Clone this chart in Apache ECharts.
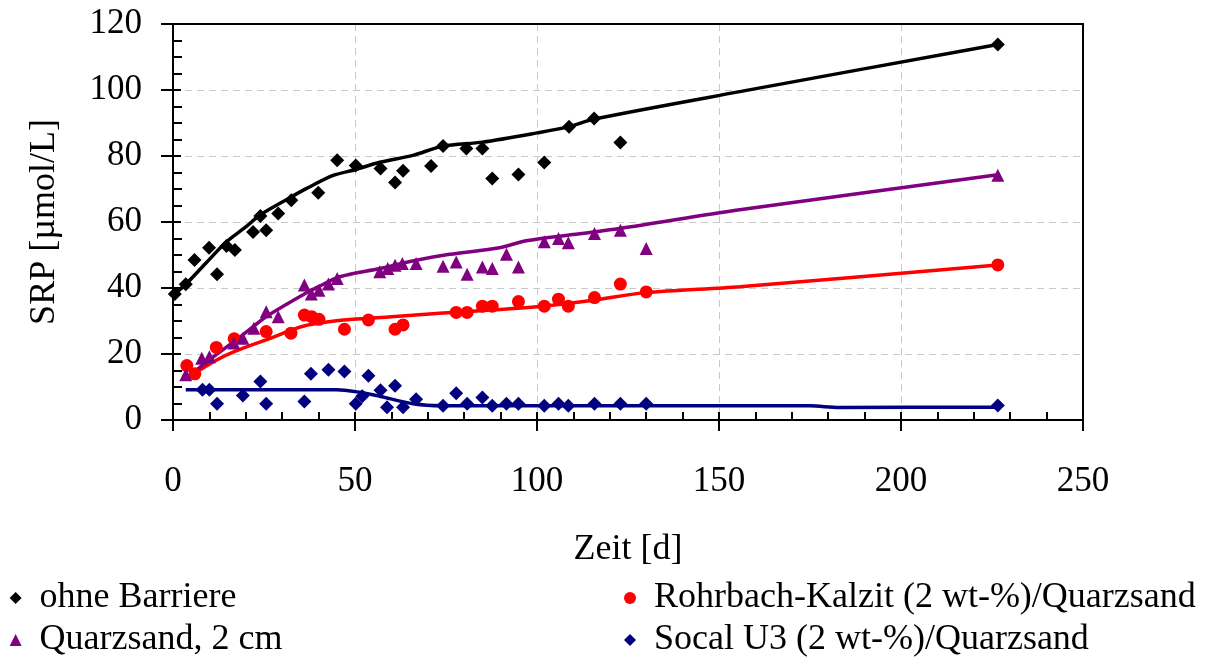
<!DOCTYPE html>
<html><head><meta charset="utf-8">
<script src="https://cdn.jsdelivr.net/npm/echarts@6/dist/echarts.min.js"></script>
<style>html,body{margin:0;padding:0;background:#fff}#c{width:1209px;height:659px}</style>
</head><body><div id="c"></div>
<script>
// ---- data ----
const xTickValues = [0, 50, 100, 150, 200, 250];
const yTickValues = [0, 20, 40, 60, 80, 100, 120];
const xAxisName = 'Zeit [d]';
const yAxisName = 'SRP [\u00b5mol/L]';
const seriesNames = ['ohne Barriere', 'Rohrbach-Kalzit (2 wt-%)/Quarzsand', 'Quarzsand, 2 cm', 'Socal U3 (2 wt-%)/Quarzsand'];

const ohneBarriere = [
  [0.5,38.2],[3.5,41.1],[5.9,48.5],[9.9,52.2],[12.1,44.2],[14.7,52.7],[17.0,51.5],[22.0,57.0],
  [24.0,61.8],[25.6,57.5],[28.9,62.6],[32.5,66.6],[39.9,68.9],[45.1,78.7],[50.2,77.1],[57.0,76.2],
  [61.0,72.0],[63.2,75.5],[70.9,77.0],[74.2,83.0],[80.6,82.3],[85.0,82.3],[87.7,73.2],[94.9,74.4],
  [102.0,78.0],[108.8,88.9],[115.7,91.4],[122.9,84.1],[226.6,113.8]
];
const ohneBarriereFit = [
  [0.5,38.4],[3.5,41.1],[9,47.5],[14.7,54],[20,58.5],[24,62.2],[32.5,67.6],[36.6,70.1],[44,74.1],
  [50.2,75.9],[56.8,78.1],[65.9,80.2],[74.2,83],[85,84.2],[100,87],[108.8,88.9],[115.7,91.2],
  [155.7,99.5],[226.6,113.8]
];
const quarzsand = [
  [3.5,13.7],[7.9,18.7],[10,19.2],[16.7,23.3],[19.2,24.8],[22.2,27.8],[25.6,32.8],[28.9,31.3],
  [36.1,40.9],[38.0,38.2],[40.1,39.3],[42.7,41.2],[45.1,42.9],[56.8,44.9],[59,45.9],[61,46.9],
  [63,47.4],[66.8,47.4],[74.2,46.6],[77.8,47.9],[80.8,44.2],[85,46.4],[87.7,45.9],[91.6,50.2],
  [94.9,46.4],[102,54],[105.9,55],[108.6,53.7],[115.8,56.5],[122.9,57.5],[130,52],[226.6,74.2]
];
const quarzsandFit = [
  [3.5,12.5],[10,18.2],[19.2,25.8],[25.6,31.3],[36.1,38.2],[40,40.4],[45.8,43.4],[56.8,45.9],
  [66.8,48.4],[76,50.2],[89.7,52.2],[97,54.3],[109.9,56.2],[122.7,58],[155.7,63.7],[226.6,74.3]
];
const rohrbach = [
  [3.8,16.5],[6,14],[11.9,22],[16.8,24.6],[25.6,26.8],[32.4,26.3],[36.1,31.8],[38.1,31.3],
  [40.1,30.5],[47.1,27.5],[53.7,30.3],[61,27.5],[63.2,28.8],[77.8,32.6],[80.8,32.6],[85,34.5],
  [87.7,34.5],[94.9,35.9],[102,34.5],[105.9,36.6],[108.6,34.5],[115.8,37.1],[122.9,41.2],
  [130,38.8],[226.6,47]
];
const rohrbachFit = [
  [3.8,12.7],[12,18.2],[17,20.8],[25.6,24.3],[36,28.5],[47,30.3],[60,31.3],[71.4,32.2],
  [100,34.3],[115.5,36.3],[130,38.6],[155.7,40.4],[226.6,47]
];
const socal = [
  [8.1,9.2],[10,9.2],[12.1,4.9],[19.2,7.4],[24,11.7],[25.6,4.9],[36.1,5.6],[37.9,14],[42.7,15.2],
  [47.1,14.7],[50.2,4.9],[52,7.2],[53.7,13.4],[57,9],[58.8,3.9],[61,10.4],[63.2,3.9],[66.8,6.3],
  [74.2,4.3],[77.8,8.1],[80.8,4.9],[85,6.8],[87.7,4.3],[91.6,4.9],[94.9,4.9],[102,4.3],[105.9,4.9],
  [108.6,4.3],[115.8,4.9],[122.9,4.9],[130,4.9],[226.6,4.4]
];
const socalFit = [
  [3.5,9.2],[45,9.2],[51.3,8.4],[56.8,7.2],[66,4.9],[74,4.3],[175,4.3],[183,3.8],[226.6,3.9]
];

// ---- styles ----
const FONT = '"Liberation Serif", "Times New Roman", serif';
const colors = { black: '#000000', red: '#ff0000', purple: '#800080', navy: '#000080' };
const axisLineStyle = { color: '#000', width: 2 };
const tickStyle = { color: '#000', width: 2 };
const gridLineStyle = { color: '#c8c8c8', width: 1, type: [7, 5] };

const xMin = xTickValues[0], xMax = xTickValues[xTickValues.length - 1];
const xInt = xTickValues[1] - xTickValues[0];
const yMin = yTickValues[0], yMax = yTickValues[yTickValues.length - 1];
const yInt = yTickValues[1] - yTickValues[0];

function fitSeries(name, data, color, smooth) {
  return { name: name, type: 'line', data: data, showSymbol: false, symbol: 'none', smooth: smooth,
    lineStyle: { color: color, width: 3.5 }, itemStyle: { color: color }, z: 2, silent: true };
}
function pointSeries(name, data, color, symbol, size) {
  return { name: name, type: 'scatter', data: data, symbol: symbol, symbolSize: size,
    itemStyle: { color: color, opacity: 1 }, z: 3 };
}
function frameAxis(pos, min, max, interval) {
  return { type: 'value', min: min, max: max, interval: interval, position: pos,
    axisLine: { show: true, onZero: false, lineStyle: axisLineStyle },
    axisTick: { show: false }, axisLabel: { show: false }, splitLine: { show: false } };
}

const legendText = { fontFamily: FONT, fontSize: 36, color: '#000', padding: [0, 0, 0, 13] };

const option = {
  animation: false,
  backgroundColor: '#fff',
  grid: { left: 173, right: 126, top: 24, bottom: 239, show: false, containLabel: false },
  xAxis: [
    { type: 'value', min: xMin, max: xMax, interval: xInt, position: 'bottom',
      axisLine: { show: true, onZero: false, lineStyle: axisLineStyle },
      axisTick: { show: true, inside: false, length: 11, lineStyle: tickStyle },
      axisLabel: { margin: 44, fontFamily: FONT, fontSize: 35, color: '#000' },
      splitLine: { show: true, lineStyle: gridLineStyle },
      name: xAxisName, nameLocation: 'middle', nameGap: 112,
      nameTextStyle: { fontFamily: FONT, fontSize: 36, color: '#000' } },
    { type: 'value', min: xMin, max: xMax, interval: xInt, position: 'bottom',
      axisLine: { show: false, onZero: false },
      axisTick: { show: true, inside: true, length: 8, lineStyle: tickStyle },
      minorTick: { show: true, splitNumber: 5, length: 8, lineStyle: tickStyle },
      axisLabel: { show: false }, splitLine: { show: false } },
    frameAxis('top', xMin, xMax, xInt)
  ],
  yAxis: [
    { type: 'value', min: yMin, max: yMax, interval: yInt, position: 'left',
      axisLine: { show: true, onZero: false, lineStyle: axisLineStyle },
      axisTick: { show: true, inside: false, length: 12, lineStyle: tickStyle },
      axisLabel: { margin: 31, fontFamily: FONT, fontSize: 35, color: '#000' },
      splitLine: { show: true, lineStyle: gridLineStyle },
      name: yAxisName, nameLocation: 'middle', nameGap: 110, nameRotate: 90,
      nameTextStyle: { fontFamily: FONT, fontSize: 36, color: '#000' } },
    { type: 'value', min: yMin, max: yMax, interval: yInt, position: 'left',
      axisLine: { show: false, onZero: false },
      axisTick: { show: true, inside: true, length: 8, lineStyle: tickStyle },
      minorTick: { show: true, splitNumber: 4, length: 9, lineStyle: tickStyle },
      axisLabel: { show: false }, splitLine: { show: false } },
    frameAxis('right', yMin, yMax, yInt)
  ],
  legend: [
    { orient: 'vertical', left: 9.6, top: 580, height: 120, padding: 0, itemGap: 6, itemWidth: 12, itemHeight: 12,
      selectedMode: false, data: [seriesNames[0], seriesNames[2]], textStyle: legendText },
    { orient: 'vertical', left: 624, top: 580, height: 120, padding: 0, itemGap: 6, itemWidth: 12, itemHeight: 12,
      selectedMode: false, data: [seriesNames[1], seriesNames[3]], textStyle: legendText }
  ],
  series: [
    fitSeries('fit0', ohneBarriereFit, colors.black, 0.3),
    fitSeries('fit1', rohrbachFit, colors.red, 0.3),
    fitSeries('fit2', quarzsandFit, colors.purple, 0.3),
    fitSeries('fit3', socalFit, colors.navy, 0.3),
    pointSeries(seriesNames[0], ohneBarriere, colors.black, 'diamond', 14),
    pointSeries(seriesNames[1], rohrbach, colors.red, 'circle', 13),
    pointSeries(seriesNames[2], quarzsand, colors.purple, 'triangle', 13),
    pointSeries(seriesNames[3], socal, colors.navy, 'diamond', 14)
  ]
};
const chart = echarts.init(document.getElementById('c'), null, { renderer: 'canvas' });
chart.setOption(option);
</script></body></html>
